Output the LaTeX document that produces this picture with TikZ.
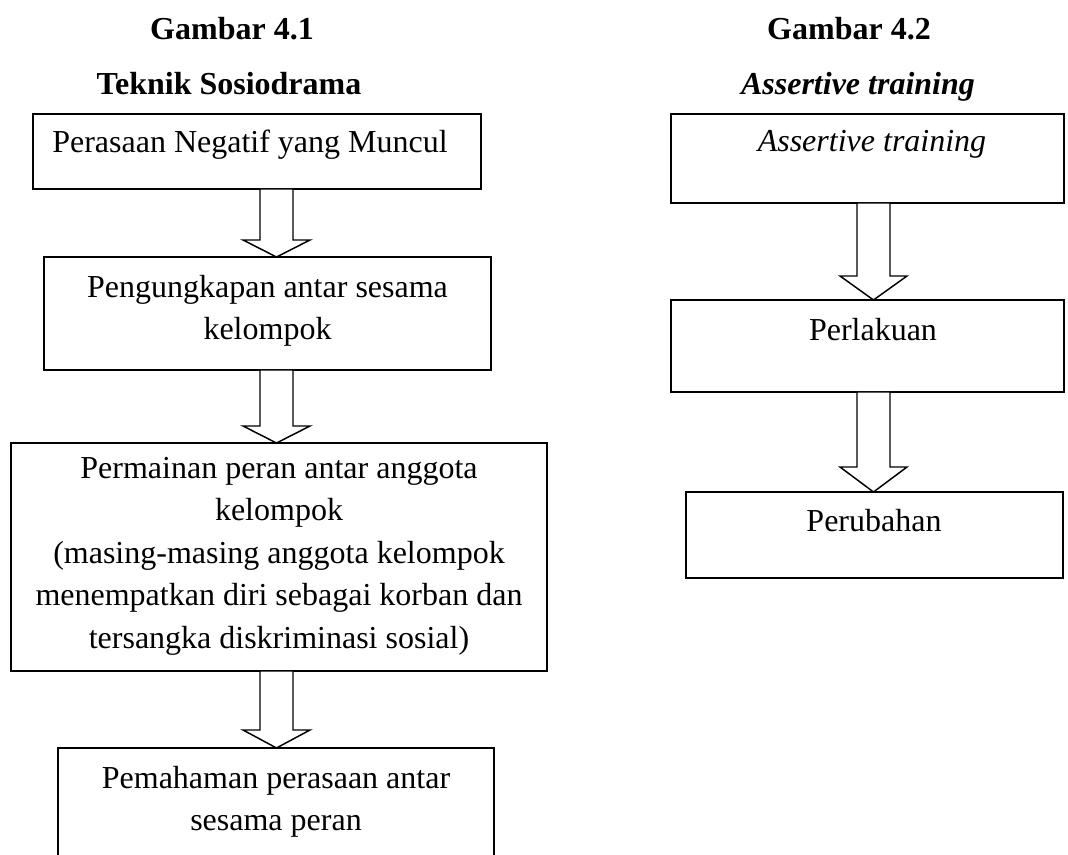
\documentclass[tikz,border=0pt]{standalone}
\usepackage{fontspec}
\setmainfont{Liberation Serif}
\usetikzlibrary{calc}
\newcommand\bodyfont{\fontsize{24}{31.9}\selectfont}
\newcommand\blkarrow[4]{%
  \draw[blk] ($(#3 |- #1.south)+(-16.5,0)$) -- ($(#3 |- #2.north)+(-16.5,-#4)$)
    -- ++(-17,0) -- (#3 |- #2.north) -- ++(33.5,-#4) -- ++(-17,0)
    -- ($(#3 |- #1.south)+(16.5,0)$) -- cycle;}
\begin{document}
\begin{tikzpicture}[x=0.75pt,y=-0.75pt,
  box/.style={draw, line width=1.1pt, inner sep=0pt, outer sep=0pt, anchor=north west},
  txt/.style={inner sep=0pt, outer sep=0pt, align=center, font=\bodyfont, anchor=north},
  one/.style={inner sep=0pt, outer sep=0pt, font=\bodyfont, anchor=base},
  ttl/.style={inner sep=0pt, outer sep=0pt, font=\bodyfont\bfseries, anchor=base},
  blk/.style={draw, line width=1.1pt, fill=white, line join=miter}]
\useasboundingbox (0,0) rectangle (1068,855);
\clip (0,0) rectangle (1068,855);
\fill[white] (0,0) rectangle (1068,855);

% titles
\node[ttl] (g1) at (232,40) {Gambar 4.1};
\node[ttl] (s1) at (229,95) {Teknik Sosiodrama};
\node[ttl] (g2) at (849,40) {Gambar 4.2};
\node[ttl] (s2) at (858,95) {\itshape Assertive training};

% left boxes
\node[box, minimum width=448*0.75pt, minimum height=75*0.75pt] (b1) at (33,114) {};
\node[box, minimum width=447*0.75pt, minimum height=113*0.75pt] (b2) at (44,257) {};
\node[box, minimum width=536*0.75pt, minimum height=228*0.75pt] (b3) at (11,443) {};
\node[box, minimum width=436*0.75pt, minimum height=130*0.75pt] (b4) at (58,748) {};

% right boxes
\node[box, minimum width=393*0.75pt, minimum height=89*0.75pt] (bA) at (671,114) {};
\node[box, minimum width=393*0.75pt, minimum height=92*0.75pt] (bB) at (671,300) {};
\node[box, minimum width=377*0.75pt, minimum height=86*0.75pt] (bC) at (686,492) {};

% texts
\node[one] (t1) at (250,153) {Perasaan Negatif yang Muncul};
\node[txt] (t2) at (267.5,297-29.77) {\strut Pengungkapan antar sesama\\\strut kelompok};
\node[txt] (t3) at (279,478-29.77) {\strut Permainan peran antar anggota\\\strut kelompok\\\strut (masing-masing anggota kelompok\\\strut menempatkan diri sebagai korban dan\\\strut tersangka diskriminasi sosial)};
\node[txt] (t4) at (276,788-29.77) {\strut Pemahaman perasaan antar\\\strut sesama peran};
\node[one] (tA) at (872,152) {\itshape Assertive training};
\node[one] (tB) at (873,341) {Perlakuan};
\node[one] (tC) at (874,532) {Perubahan};

% arrows
\coordinate (axL) at (276.5,0);
\coordinate (axR) at (873.5,0);
\blkarrow{b1}{b2}{axL}{17}
\blkarrow{b2}{b3}{axL}{17}
\blkarrow{b3}{b4}{axL}{18}
\blkarrow{bA}{bB}{axR}{24}
\blkarrow{bB}{bC}{axR}{25}
\end{tikzpicture}
\end{document}
